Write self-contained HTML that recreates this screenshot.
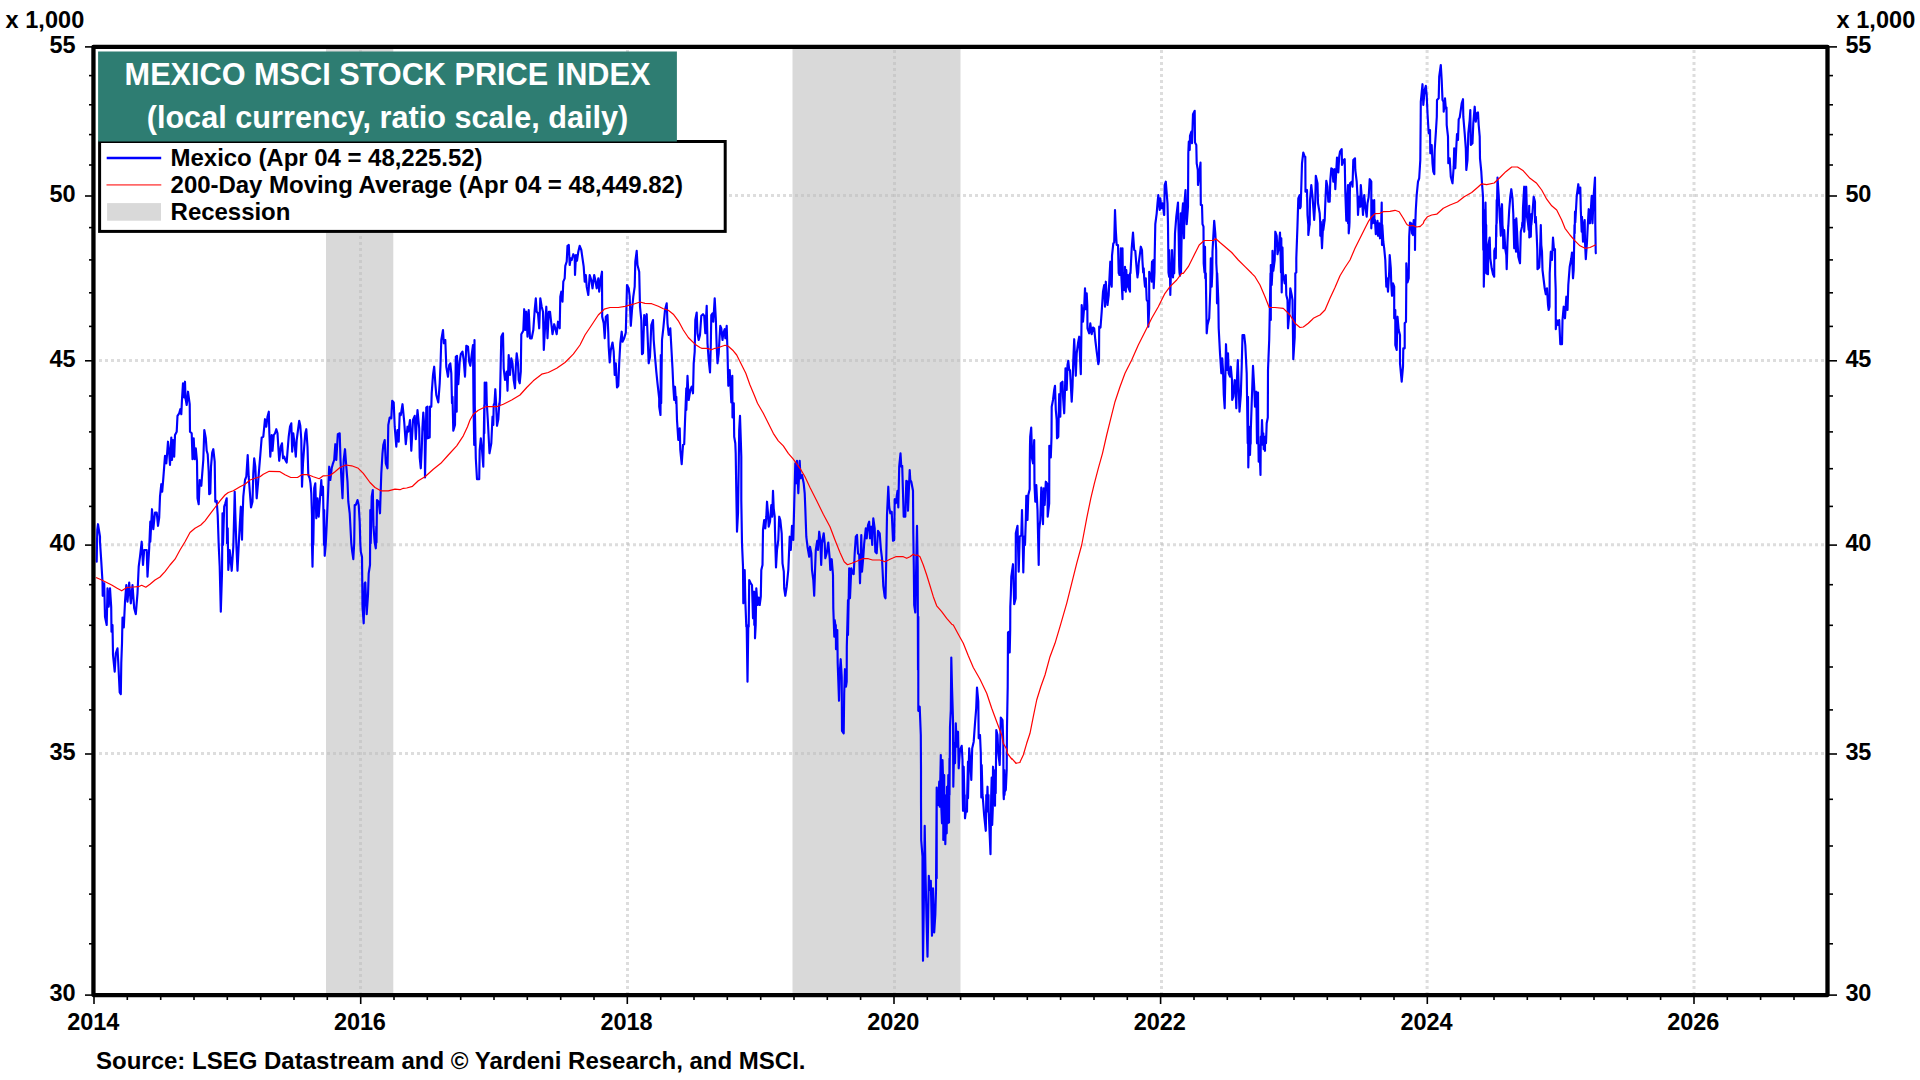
<!DOCTYPE html>
<html><head><meta charset="utf-8"><title>Mexico MSCI Stock Price Index</title>
<style>
html,body{margin:0;padding:0;background:#fff;}
body{width:1920px;height:1080px;position:relative;overflow:hidden;font-family:"Liberation Sans",sans-serif;font-weight:bold;color:#000;font-size:24px;}
.n{font-size:23.5px;letter-spacing:-0.1px;}
.t{position:absolute;white-space:nowrap;line-height:1;}
.yl{text-align:right;width:60px;left:15.4px;}
.yr{left:1845.4px;}
.xl{width:120px;text-align:center;}
.ti{position:absolute;left:98.1px;width:578.8px;text-align:center;color:#fff;font-size:30.67px;white-space:nowrap;line-height:1;}
.lt{position:absolute;left:170.6px;white-space:nowrap;line-height:1;letter-spacing:-0.035px;}
</style></head><body>
<svg width="1920" height="1080" viewBox="0 0 1920 1080" style="position:absolute;left:0;top:0">
<rect x="326" y="48" width="67.3" height="946" fill="#d9d9d9"/>
<rect x="792.5" y="48" width="168" height="946" fill="#d9d9d9"/>
<g stroke="#bbbbbb" stroke-opacity="0.5" stroke-width="3" stroke-dasharray="3,3" fill="none"><line x1="99" x2="1825" y1="195.6" y2="195.6"/><line x1="99" x2="1825" y1="360.4" y2="360.4"/><line x1="99" x2="1825" y1="544.7" y2="544.7"/><line x1="99" x2="1825" y1="753.6" y2="753.6"/><line x1="360.5" x2="360.5" y1="50" y2="993"/><line x1="627.5" x2="627.5" y1="50" y2="993"/><line x1="894.5" x2="894.5" y1="50" y2="993"/><line x1="1161.5" x2="1161.5" y1="50" y2="993"/><line x1="1427.1" x2="1427.1" y1="50" y2="993"/><line x1="1694.0" x2="1694.0" y1="50" y2="993"/></g>
<path d="M96.7,561.7 L97.0,543.3 L97.3,530.0 L98.0,524.2 L100.0,536.7 L100.0,541.7 L101.3,561.7 L102.5,581.7 L102.7,595.8 L104.2,583.3 L105.0,616.7 L106.7,625.0 L107.5,588.3 L108.7,606.7 L110.0,588.3 L111.2,606.7 L111.5,631.7 L112.5,625.0 L113.0,655.0 L114.7,671.7 L115.8,653.3 L117.5,648.3 L118.3,663.3 L119.7,692.5 L120.8,694.2 L121.3,662.5 L122.0,643.3 L122.5,617.5 L123.8,627.5 L125.0,601.7 L126.3,585.0 L127.5,601.7 L129.2,582.5 L130.8,603.3 L132.5,585.0 L134.2,608.3 L135.8,614.2 L137.5,593.3 L138.7,566.7 L140.0,556.7 L141.7,541.7 L143.0,565.0 L144.2,550.0 L146.7,550.0 L147.5,576.7 L149.2,548.3 L150.3,521.7 L150.3,541.7 L152.0,509.2 L153.3,529.2 L155.0,512.5 L156.7,512.5 L158.0,525.8 L159.2,517.5 L160.0,496.7 L161.3,484.2 L162.2,491.7 L163.3,478.3 L164.2,466.7 L165.0,455.8 L166.3,463.3 L167.0,455.0 L168.0,441.7 L169.2,453.3 L170.0,465.0 L171.3,437.5 L172.0,460.0 L173.0,440.0 L174.2,456.7 L175.0,435.0 L176.7,431.7 L177.5,415.8 L179.2,413.3 L180.3,409.2 L181.3,414.2 L182.0,399.2 L183.0,383.3 L184.2,397.5 L185.0,381.7 L185.5,398.3 L186.7,405.0 L188.0,391.7 L189.7,404.2 L190.0,431.7 L191.7,433.3 L192.5,459.2 L193.7,438.3 L194.7,459.2 L195.8,448.3 L197.0,461.7 L197.5,498.3 L198.7,504.2 L199.7,480.0 L201.3,485.8 L202.0,476.7 L203.3,460.0 L204.3,430.0 L205.8,438.3 L206.7,450.8 L207.7,454.2 L208.7,471.7 L209.2,494.2 L210.3,493.3 L211.0,466.7 L212.2,452.5 L213.3,449.2 L214.7,461.7 L215.3,501.7 L216.7,500.8 L217.7,515.0 L218.7,545.0 L219.7,566.7 L220.8,611.7 L222.0,573.3 L222.5,513.3 L223.0,545.0 L224.2,506.7 L225.3,503.3 L226.7,498.3 L227.0,543.3 L227.7,528.3 L228.3,570.0 L229.7,550.0 L231.7,570.8 L233.3,546.7 L234.3,510.0 L234.7,491.7 L235.2,510.0 L236.3,543.3 L237.5,570.8 L238.8,543.3 L240.8,506.7 L241.5,526.7 L242.0,539.7 L242.5,518.3 L243.3,496.7 L245.0,480.0 L246.3,476.7 L247.7,455.0 L248.7,476.7 L249.7,490.0 L251.0,507.5 L252.5,501.7 L253.3,473.3 L254.2,458.3 L255.3,466.7 L256.7,498.3 L258.0,483.3 L259.2,468.3 L260.3,455.0 L261.7,437.5 L263.3,436.7 L265.0,419.2 L266.3,426.7 L267.5,416.7 L268.8,411.7 L269.3,431.7 L270.3,456.7 L271.7,435.0 L272.5,450.8 L273.8,435.0 L275.0,433.3 L276.3,429.2 L277.5,433.3 L278.3,446.7 L279.2,460.8 L280.8,446.7 L282.0,443.3 L283.0,458.3 L284.2,456.7 L285.3,460.0 L286.7,462.5 L287.5,451.7 L288.7,436.7 L290.0,426.7 L291.3,423.3 L292.2,451.7 L293.3,433.3 L294.5,443.3 L295.8,456.7 L296.7,440.0 L298.0,430.0 L299.2,420.8 L300.3,425.8 L301.3,440.0 L302.0,486.7 L303.0,463.3 L304.2,446.7 L305.3,433.3 L306.3,429.2 L307.5,446.7 L308.3,475.0 L309.7,478.3 L310.5,483.3 L311.3,493.3 L312.0,515.8 L312.0,545.0 L312.5,566.7 L313.3,526.7 L313.3,545.0 L314.2,488.3 L315.3,483.3 L316.3,518.3 L317.5,498.3 L318.7,516.7 L320.0,498.3 L321.3,480.0 L322.0,495.0 L323.0,486.7 L324.0,545.0 L324.2,510.0 L324.7,555.8 L325.7,545.0 L326.7,525.0 L328.0,495.0 L329.2,466.7 L330.3,480.0 L331.7,468.3 L333.0,463.3 L334.2,460.0 L335.3,444.2 L336.3,460.0 L337.8,434.2 L339.7,433.3 L340.5,460.0 L341.3,476.7 L342.5,498.3 L343.7,460.0 L345.0,449.2 L346.3,466.7 L347.5,481.7 L348.3,501.7 L349.7,513.3 L351.3,543.3 L352.0,550.0 L353.3,559.2 L354.2,543.3 L354.7,505.0 L355.8,505.0 L357.5,500.0 L358.7,505.0 L359.7,521.7 L360.3,543.3 L360.8,551.7 L362.0,556.7 L362.5,606.7 L363.7,623.3 L364.7,583.3 L365.3,582.5 L366.7,614.2 L368.0,595.0 L368.7,573.3 L370.0,565.0 L370.3,510.0 L370.7,543.3 L371.7,496.7 L372.8,490.0 L373.5,526.7 L374.7,542.5 L375.8,548.3 L376.3,526.7 L376.5,542.5 L377.0,500.0 L378.7,501.7 L380.0,513.3 L381.3,473.3 L382.5,453.3 L383.3,445.0 L384.7,440.0 L385.8,463.3 L387.5,468.3 L388.3,425.0 L389.7,417.5 L391.3,418.3 L392.2,400.8 L393.7,402.5 L394.7,426.7 L396.3,446.7 L397.5,430.0 L398.7,441.7 L399.7,413.3 L400.8,415.0 L402.5,404.2 L402.5,404.2 L404.2,421.7 L405.8,444.2 L407.5,426.7 L408.3,431.7 L410.0,420.0 L411.3,450.8 L413.0,420.0 L414.7,415.8 L415.8,439.2 L416.7,421.7 L417.5,410.0 L419.2,428.3 L419.7,457.5 L420.8,468.3 L421.7,450.0 L422.5,426.7 L423.3,412.5 L424.7,431.7 L425.0,477.5 L425.8,440.0 L426.3,407.5 L427.5,406.7 L427.5,438.3 L429.7,437.5 L430.0,406.7 L430.0,407.5 L431.3,406.7 L431.7,393.3 L433.0,375.0 L434.2,366.7 L435.3,383.3 L436.3,395.0 L438.3,402.5 L439.7,383.3 L440.5,365.0 L441.3,340.0 L443.0,330.0 L443.8,343.3 L445.3,340.0 L446.3,366.7 L448.0,376.7 L449.2,365.0 L450.3,363.3 L451.3,373.3 L452.0,403.3 L452.5,396.7 L453.3,430.8 L455.0,425.0 L455.2,403.3 L455.8,356.7 L456.7,411.7 L457.0,355.8 L458.3,384.2 L459.7,361.7 L460.8,354.2 L462.5,351.7 L463.7,360.0 L465.0,376.7 L466.3,345.8 L468.0,346.7 L469.2,361.7 L470.3,365.8 L471.7,355.0 L473.0,345.0 L473.5,403.3 L474.2,445.0 L474.5,340.0 L474.8,405.0 L475.8,458.3 L477.0,479.2 L479.2,479.2 L479.7,450.0 L480.8,438.3 L482.0,450.0 L483.3,466.7 L484.3,405.0 L484.3,433.3 L484.7,382.5 L485.0,403.3 L486.3,382.5 L486.8,405.0 L486.8,403.3 L487.8,420.0 L489.5,453.3 L491.3,443.3 L492.5,416.7 L493.3,425.0 L493.7,405.0 L494.5,403.3 L495.3,389.2 L496.2,405.0 L496.3,410.0 L497.0,425.8 L498.3,419.2 L499.3,403.3 L499.5,405.0 L500.0,396.7 L501.3,336.7 L503.0,333.3 L503.7,368.3 L505.0,380.0 L506.7,371.7 L507.5,390.8 L508.7,355.0 L510.0,375.0 L511.3,358.3 L512.5,363.3 L513.7,380.0 L515.0,388.3 L515.8,366.7 L516.7,353.3 L518.0,363.3 L518.7,380.0 L519.7,383.3 L520.8,371.7 L521.3,334.2 L523.3,330.8 L524.2,309.2 L525.3,330.0 L526.3,311.7 L527.5,336.7 L528.7,310.0 L530.0,338.3 L531.7,338.3 L533.3,330.0 L534.7,310.0 L535.8,298.3 L536.7,311.7 L538.0,313.3 L539.2,328.3 L540.3,298.3 L541.7,306.7 L543.0,311.7 L543.8,350.0 L545.0,328.3 L546.3,306.7 L547.5,338.3 L548.8,311.7 L550.0,311.7 L551.3,323.3 L552.5,334.2 L554.2,324.2 L555.3,328.3 L556.7,334.2 L558.0,321.7 L559.7,328.3 L560.3,296.7 L561.3,291.7 L562.5,301.7 L563.3,281.7 L564.7,278.3 L565.3,265.8 L566.7,261.7 L567.5,245.8 L568.8,245.0 L569.7,265.0 L570.8,258.3 L571.7,260.0 L573.3,254.2 L574.7,256.7 L575.0,275.0 L576.0,255.0 L577.0,260.8 L578.3,251.7 L579.7,245.8 L581.3,250.0 L582.5,258.3 L583.7,266.7 L584.7,281.7 L585.8,275.0 L586.7,286.7 L588.3,295.0 L589.7,275.0 L591.3,280.0 L592.5,288.3 L594.2,275.0 L595.3,280.0 L596.7,288.3 L598.3,278.3 L599.2,291.7 L600.8,278.3 L602.0,271.7 L602.2,316.7 L603.7,323.3 L604.7,338.3 L605.8,316.7 L607.5,315.0 L608.3,333.3 L608.7,346.7 L609.7,362.5 L610.8,350.0 L612.5,342.5 L613.7,351.7 L614.7,375.0 L615.8,363.3 L617.0,387.5 L618.3,385.8 L619.2,363.3 L620.3,343.3 L621.7,331.7 L622.5,341.7 L624.2,338.3 L625.8,332.5 L627.0,285.0 L628.7,288.3 L629.7,296.7 L630.8,325.8 L632.0,310.0 L633.3,296.7 L634.7,286.7 L635.3,261.7 L636.7,250.8 L637.5,265.0 L639.2,271.7 L640.0,306.7 L641.3,320.0 L642.0,354.2 L643.0,353.3 L644.2,315.0 L645.3,325.0 L646.7,314.2 L647.5,333.3 L648.7,363.3 L650.0,356.7 L651.3,325.0 L653.0,320.0 L653.7,340.0 L655.0,356.7 L656.3,371.7 L657.5,383.3 L659.2,398.3 L659.2,406.7 L660.5,415.0 L660.8,355.0 L661.2,403.3 L662.0,340.0 L663.3,328.3 L665.0,310.0 L666.7,303.3 L667.5,323.3 L668.7,335.0 L670.3,328.3 L671.3,346.7 L672.5,368.3 L673.3,386.7 L674.2,400.0 L675.0,386.7 L676.0,403.3 L676.3,396.7 L677.0,420.0 L678.3,440.0 L679.7,428.3 L680.3,450.0 L681.7,464.2 L683.0,445.0 L684.2,444.2 L685.0,421.7 L686.3,388.3 L686.3,410.0 L687.5,375.8 L688.7,400.0 L690.3,390.0 L691.7,386.7 L693.0,393.3 L693.7,363.3 L694.7,351.7 L695.3,320.0 L696.7,312.5 L697.5,333.3 L698.7,340.0 L700.0,335.0 L701.3,315.8 L703.0,314.2 L704.2,315.8 L705.3,333.3 L706.7,305.8 L707.5,343.3 L708.7,360.0 L710.0,372.5 L710.8,345.0 L711.3,315.0 L712.5,313.3 L713.3,321.7 L714.7,298.3 L715.8,318.3 L716.7,346.7 L717.5,363.3 L718.7,353.3 L719.7,335.0 L720.3,325.8 L721.3,328.3 L722.5,340.0 L723.3,333.3 L724.7,329.2 L725.3,338.3 L726.7,325.8 L727.5,351.7 L728.3,385.8 L729.7,370.0 L730.3,381.7 L731.3,402.5 L732.3,375.8 L732.5,417.5 L733.8,403.3 L734.2,436.7 L735.3,443.3 L735.7,453.3 L736.3,491.7 L737.0,531.7 L738.0,513.3 L738.7,466.7 L739.2,430.0 L740.0,415.8 L740.8,440.0 L741.3,456.7 L741.3,500.0 L742.0,543.3 L743.0,566.7 L743.3,603.3 L744.7,570.0 L745.3,600.0 L746.3,626.7 L746.7,626.7 L747.5,681.7 L748.3,625.0 L748.7,626.7 L749.2,580.0 L750.8,583.3 L752.0,585.0 L753.0,618.3 L754.2,591.7 L754.3,625.0 L755.0,625.0 L755.0,638.3 L755.7,625.0 L755.7,625.0 L756.3,588.3 L757.5,605.0 L758.7,597.5 L759.7,605.0 L760.8,596.7 L761.3,570.0 L762.5,565.0 L763.0,530.0 L764.2,520.0 L765.3,528.3 L766.3,516.7 L767.0,501.7 L768.0,513.3 L768.7,526.7 L770.0,521.7 L771.3,505.0 L772.2,516.7 L773.0,490.8 L773.7,508.3 L774.7,516.7 L775.0,531.7 L776.0,567.5 L777.0,550.0 L778.3,540.0 L779.2,516.7 L780.3,520.0 L781.7,533.3 L782.5,563.3 L783.8,571.7 L784.2,588.3 L785.3,595.8 L786.7,586.7 L788.3,570.0 L789.7,536.7 L790.8,550.0 L792.0,525.8 L793.3,540.0 L794.2,505.0 L795.3,463.3 L796.3,483.3 L797.0,460.8 L798.3,493.3 L799.7,460.8 L800.5,478.3 L802.0,475.0 L803.7,483.3 L804.7,493.3 L805.3,508.3 L806.3,536.7 L807.5,546.7 L809.2,556.7 L810.0,546.7 L811.3,553.3 L812.0,570.0 L813.3,580.0 L814.2,595.8 L815.0,571.7 L815.8,550.0 L817.2,540.8 L818.0,550.0 L819.2,531.7 L820.3,540.0 L821.2,565.0 L822.0,543.3 L823.7,533.3 L824.7,543.3 L825.3,558.3 L826.7,553.3 L828.3,542.5 L829.7,558.3 L830.3,570.0 L831.7,559.2 L833.0,575.0 L833.3,608.3 L834.3,636.7 L834.7,620.0 L835.3,625.0 L835.8,625.0 L836.0,649.2 L837.3,630.0 L837.7,663.3 L839.0,700.8 L839.7,673.3 L840.7,659.2 L841.7,676.7 L842.0,730.8 L843.7,733.3 L844.2,693.3 L845.0,669.2 L846.0,686.7 L846.7,681.7 L846.8,646.7 L848.0,600.0 L848.0,635.0 L849.2,568.3 L850.0,598.3 L851.3,568.3 L852.5,573.3 L853.7,574.2 L854.7,553.3 L855.8,536.7 L857.0,535.0 L858.0,553.3 L859.2,555.0 L860.0,583.3 L861.3,535.0 L862.0,571.7 L863.3,556.7 L864.2,543.3 L865.8,528.3 L866.7,538.3 L868.0,525.0 L869.2,521.7 L870.0,538.3 L871.3,526.7 L872.2,545.0 L873.3,518.3 L874.7,528.3 L875.3,551.7 L876.7,553.3 L878.0,530.8 L879.7,533.3 L880.8,548.3 L882.0,558.3 L883.3,585.8 L884.7,596.7 L885.5,598.3 L886.3,556.7 L887.0,515.0 L888.3,486.7 L889.2,506.7 L890.3,513.3 L891.7,511.7 L893.0,540.8 L894.2,540.0 L894.7,499.2 L895.8,503.3 L897.5,490.8 L898.3,507.5 L899.2,466.7 L900.5,453.3 L901.3,466.7 L902.2,465.8 L903.7,516.7 L905.3,516.7 L906.3,480.8 L907.5,481.7 L908.0,510.8 L909.7,470.0 L910.3,480.0 L911.3,481.7 L913.0,490.8 L913.3,533.3 L913.8,566.7 L914.2,605.0 L915.3,612.5 L916.2,566.7 L917.0,525.8 L917.7,566.7 L918.0,670.0 L918.3,616.7 L918.3,710.8 L919.7,706.7 L920.8,735.0 L921.0,770.0 L921.0,800.0 L921.2,840.0 L922.5,856.7 L922.5,898.3 L923.0,960.8 L923.8,906.7 L924.7,825.8 L925.5,873.3 L926.5,918.3 L927.5,956.7 L928.2,915.0 L928.8,875.8 L929.8,890.0 L930.8,880.8 L932.0,935.8 L933.0,888.3 L934.2,932.5 L935.3,915.0 L936.0,890.0 L936.7,787.5 L936.7,878.3 L936.7,840.0 L936.7,806.7 L938.0,795.0 L938.3,805.0 L939.2,781.7 L939.7,806.7 L940.0,793.3 L940.8,755.0 L941.3,806.7 L942.0,823.3 L942.5,760.0 L943.3,786.7 L943.3,840.0 L944.2,775.0 L944.3,836.7 L944.8,795.0 L945.3,844.2 L945.8,821.7 L946.7,795.0 L946.7,833.3 L947.0,786.7 L947.8,823.3 L948.3,775.0 L949.0,822.5 L949.5,758.3 L949.5,795.0 L950.0,726.7 L950.8,710.0 L951.3,657.5 L952.0,686.7 L953.0,720.0 L953.3,786.7 L954.2,743.3 L955.0,763.3 L955.8,723.3 L956.7,746.7 L958.0,731.7 L958.7,768.3 L960.0,750.0 L961.7,745.8 L962.5,760.0 L962.7,795.0 L963.0,810.8 L963.7,766.7 L964.7,811.7 L964.7,795.0 L965.0,818.3 L965.8,811.7 L967.0,811.7 L967.2,795.0 L968.0,761.7 L968.0,798.3 L969.2,748.3 L970.3,761.7 L971.3,780.0 L972.2,748.3 L973.7,741.7 L975.0,723.3 L976.2,708.3 L977.0,687.5 L978.3,701.7 L978.7,738.3 L980.0,735.0 L980.8,753.3 L981.3,797.5 L981.7,765.0 L982.5,795.0 L982.8,797.5 L984.2,815.8 L985.8,830.8 L986.3,795.0 L986.7,811.7 L987.5,786.7 L987.7,795.0 L988.5,795.0 L988.7,811.7 L990.5,854.2 L991.2,795.0 L991.7,777.5 L992.2,825.0 L992.8,808.3 L993.0,766.7 L994.2,786.7 L995.0,805.8 L995.3,770.0 L995.7,793.3 L996.3,730.0 L997.5,735.0 L998.3,753.3 L999.7,765.0 L1000.8,717.5 L1002.5,720.0 L1003.3,743.3 L1003.5,793.3 L1003.8,799.2 L1004.3,770.0 L1004.5,795.0 L1004.7,791.7 L1005.8,790.0 L1006.7,770.0 L1007.0,726.7 L1007.7,686.7 L1008.0,632.5 L1009.2,631.7 L1009.7,652.5 L1010.2,630.0 L1010.3,606.7 L1010.8,595.0 L1011.3,576.7 L1013.0,564.2 L1014.2,604.2 L1015.7,598.3 L1015.8,533.3 L1017.5,525.8 L1018.7,571.7 L1019.7,536.7 L1021.3,535.0 L1022.0,510.0 L1022.7,540.0 L1023.3,572.5 L1024.2,536.7 L1025.0,545.0 L1025.8,520.0 L1026.3,495.8 L1027.5,520.0 L1028.3,495.0 L1029.7,489.2 L1029.8,460.0 L1030.0,445.0 L1030.2,436.7 L1031.2,427.5 L1031.7,443.3 L1032.0,458.3 L1033.0,463.3 L1033.8,448.3 L1034.2,440.0 L1034.3,456.7 L1034.5,485.0 L1035.3,501.7 L1036.3,485.0 L1037.5,510.0 L1038.7,565.0 L1039.2,530.0 L1040.3,520.0 L1041.3,487.5 L1043.0,524.2 L1043.7,488.3 L1044.7,505.0 L1045.8,481.7 L1047.5,484.2 L1047.7,516.7 L1049.2,503.3 L1049.3,473.3 L1049.3,445.8 L1049.5,445.8 L1050.8,457.5 L1051.3,443.3 L1051.5,436.7 L1051.7,406.7 L1053.0,400.0 L1054.2,390.0 L1055.0,385.8 L1055.8,410.0 L1056.7,420.0 L1057.0,438.3 L1058.3,436.7 L1058.7,416.7 L1059.2,394.2 L1060.3,416.7 L1060.8,383.3 L1062.5,381.7 L1063.0,396.7 L1064.2,413.3 L1065.0,390.0 L1065.5,368.3 L1066.7,390.0 L1067.5,365.0 L1068.3,360.8 L1069.2,370.0 L1070.0,370.0 L1070.8,385.0 L1071.7,401.7 L1072.5,386.7 L1073.3,360.0 L1074.2,339.2 L1075.8,375.8 L1076.7,353.3 L1078.0,343.3 L1079.2,336.7 L1080.0,356.7 L1080.8,374.2 L1081.3,340.0 L1081.7,305.0 L1083.0,321.7 L1084.2,306.7 L1085.0,288.3 L1085.8,309.2 L1086.7,293.3 L1087.3,305.8 L1087.5,328.3 L1089.2,333.3 L1090.3,323.3 L1091.7,334.2 L1093.0,327.5 L1094.2,328.3 L1095.3,340.0 L1096.7,351.7 L1098.3,364.2 L1099.0,360.8 L1099.2,326.7 L1100.5,327.5 L1101.7,311.7 L1103.0,291.7 L1104.2,285.0 L1105.0,306.7 L1105.8,281.7 L1107.5,305.0 L1108.7,295.0 L1109.2,283.3 L1110.3,261.7 L1110.8,281.7 L1111.7,286.7 L1112.0,273.3 L1112.0,255.8 L1113.3,243.3 L1114.2,242.5 L1115.0,210.0 L1115.8,230.0 L1116.7,245.0 L1118.0,245.0 L1118.7,273.3 L1118.7,261.7 L1119.3,275.0 L1119.7,275.0 L1120.3,272.5 L1120.8,248.3 L1121.3,275.0 L1122.5,299.2 L1122.5,248.3 L1122.8,273.3 L1124.0,273.3 L1124.2,290.0 L1125.0,275.0 L1125.0,266.7 L1125.8,291.7 L1126.3,270.0 L1127.0,286.7 L1128.0,275.0 L1128.7,288.3 L1130.0,291.7 L1130.0,273.3 L1130.5,273.3 L1130.8,266.7 L1131.7,248.3 L1133.0,232.5 L1134.2,250.0 L1135.3,250.8 L1136.3,264.2 L1137.0,272.5 L1137.5,277.5 L1137.5,276.7 L1138.2,272.5 L1138.7,263.3 L1140.0,253.3 L1140.8,246.7 L1142.0,250.0 L1142.5,261.7 L1143.2,272.5 L1143.7,268.3 L1144.2,278.3 L1145.0,286.7 L1145.8,278.3 L1146.7,300.0 L1147.8,301.7 L1148.3,326.7 L1149.2,308.3 L1149.2,271.7 L1150.0,278.3 L1150.8,273.3 L1151.7,281.7 L1151.7,270.0 L1152.0,261.7 L1152.5,273.3 L1153.3,260.0 L1153.7,288.3 L1154.5,272.5 L1154.7,255.8 L1155.3,224.2 L1156.7,213.3 L1157.5,203.3 L1158.3,195.0 L1159.7,210.0 L1160.3,198.3 L1161.3,208.3 L1162.5,203.3 L1164.2,215.0 L1164.7,185.0 L1165.8,181.7 L1166.7,193.3 L1167.5,203.3 L1168.0,225.0 L1168.5,272.5 L1169.2,276.7 L1169.2,250.0 L1170.0,271.7 L1170.3,295.0 L1170.8,276.7 L1171.7,273.3 L1172.0,250.0 L1173.0,277.5 L1173.3,266.7 L1173.8,272.5 L1174.2,273.3 L1175.0,233.3 L1176.3,216.7 L1178.0,202.5 L1178.7,236.7 L1179.2,266.7 L1179.5,272.5 L1180.0,275.8 L1180.0,260.0 L1180.8,213.3 L1181.0,272.5 L1182.0,216.7 L1183.0,203.3 L1184.0,238.3 L1184.7,200.0 L1185.5,190.0 L1186.7,224.2 L1188.0,206.7 L1188.3,153.3 L1188.8,141.7 L1189.7,150.0 L1190.0,135.8 L1191.3,131.7 L1192.0,143.3 L1193.0,114.2 L1194.7,110.8 L1195.0,142.5 L1196.3,145.0 L1196.7,163.3 L1197.8,170.0 L1198.0,185.0 L1199.2,175.0 L1200.5,162.5 L1200.8,205.0 L1202.0,205.0 L1202.5,224.2 L1203.5,226.7 L1203.7,263.3 L1204.5,272.5 L1205.0,246.7 L1205.3,278.3 L1205.8,273.3 L1206.7,333.3 L1207.5,325.0 L1209.2,318.3 L1210.3,290.0 L1210.5,273.3 L1210.8,258.3 L1211.7,286.7 L1212.3,272.5 L1212.5,251.7 L1213.3,236.7 L1214.2,220.8 L1215.3,233.3 L1216.2,250.0 L1216.3,263.3 L1216.8,272.5 L1217.0,303.3 L1217.2,273.3 L1218.3,300.0 L1218.7,328.3 L1220.0,353.3 L1221.3,373.3 L1222.2,358.3 L1223.0,370.0 L1223.8,395.0 L1224.7,408.3 L1225.3,378.3 L1226.0,344.2 L1227.0,370.0 L1228.0,353.3 L1228.7,373.3 L1230.0,376.7 L1230.8,366.7 L1232.0,380.0 L1232.2,400.0 L1233.3,396.7 L1234.7,380.0 L1235.5,386.7 L1236.3,408.3 L1237.0,378.3 L1237.8,360.0 L1238.7,386.7 L1239.5,411.7 L1240.8,395.0 L1241.7,366.7 L1242.5,335.0 L1244.2,335.0 L1245.3,345.0 L1246.7,373.3 L1247.7,443.3 L1248.0,396.7 L1248.3,467.5 L1249.2,426.7 L1249.8,445.0 L1250.0,455.0 L1250.3,445.0 L1250.7,443.3 L1250.8,430.0 L1251.7,403.3 L1253.0,365.8 L1254.2,386.7 L1255.0,406.7 L1256.3,391.7 L1257.0,443.3 L1258.0,392.5 L1258.3,436.7 L1258.7,461.7 L1259.3,445.0 L1259.5,446.7 L1260.5,475.0 L1260.8,436.7 L1261.3,445.0 L1262.0,420.0 L1263.0,445.0 L1263.3,433.3 L1263.7,449.2 L1264.2,445.0 L1265.0,450.8 L1265.0,436.7 L1266.0,443.3 L1266.7,423.3 L1267.8,417.5 L1268.0,370.0 L1269.2,340.0 L1269.7,315.0 L1270.5,273.3 L1270.8,320.0 L1270.8,265.0 L1271.7,285.0 L1272.3,272.5 L1272.5,250.8 L1273.3,270.8 L1274.7,260.0 L1275.3,231.7 L1276.7,235.8 L1277.5,254.2 L1278.7,248.3 L1280.0,232.5 L1281.0,272.5 L1281.3,238.3 L1281.7,292.5 L1282.5,247.5 L1283.0,278.3 L1283.0,273.3 L1283.3,275.0 L1284.7,283.3 L1285.8,275.0 L1286.3,295.0 L1287.5,300.0 L1288.0,328.3 L1289.2,315.0 L1290.3,288.3 L1291.7,295.0 L1292.5,300.0 L1293.3,359.2 L1294.7,337.5 L1295.3,286.7 L1295.3,273.3 L1296.3,272.5 L1296.3,258.3 L1297.5,225.0 L1298.3,198.3 L1299.7,195.0 L1300.0,208.3 L1300.7,206.7 L1301.3,186.7 L1302.0,163.3 L1303.3,152.5 L1304.7,156.7 L1305.3,156.7 L1305.5,191.7 L1307.0,190.0 L1307.5,215.0 L1308.3,225.0 L1308.3,235.0 L1309.7,223.3 L1309.7,225.0 L1310.0,200.0 L1311.3,185.0 L1312.5,196.7 L1314.2,220.0 L1315.3,200.0 L1315.8,175.8 L1317.5,183.3 L1318.0,203.3 L1319.7,213.3 L1320.2,223.3 L1320.3,235.8 L1320.8,221.7 L1322.0,248.3 L1323.3,220.0 L1323.3,230.0 L1324.3,222.5 L1324.7,220.0 L1325.3,203.3 L1326.3,180.8 L1327.5,186.7 L1328.3,201.7 L1329.7,201.7 L1330.3,180.0 L1331.3,168.3 L1332.5,169.2 L1333.3,181.7 L1334.7,169.2 L1335.3,189.2 L1336.3,170.0 L1337.0,157.5 L1338.3,172.5 L1339.2,156.7 L1340.0,151.7 L1341.7,149.2 L1342.0,165.0 L1343.7,160.0 L1344.7,159.2 L1345.3,191.7 L1346.3,220.8 L1347.2,200.0 L1348.0,185.0 L1348.0,223.3 L1348.7,208.3 L1348.7,233.3 L1349.3,226.7 L1349.5,222.5 L1350.0,183.3 L1351.7,181.7 L1352.5,186.7 L1353.3,160.0 L1355.0,158.3 L1355.3,170.0 L1356.7,181.7 L1357.5,196.7 L1358.0,215.0 L1359.2,196.7 L1360.3,206.7 L1360.8,185.0 L1362.0,200.0 L1363.0,215.0 L1364.2,195.0 L1365.3,206.7 L1366.7,216.7 L1367.5,203.3 L1368.7,196.7 L1369.7,179.2 L1371.3,181.7 L1371.3,228.3 L1372.0,200.0 L1372.5,216.7 L1372.5,223.3 L1373.3,208.3 L1374.2,200.0 L1374.5,223.3 L1375.0,220.0 L1375.8,234.2 L1376.3,226.7 L1377.0,225.0 L1377.5,220.8 L1378.0,235.8 L1379.2,223.3 L1379.2,228.3 L1380.0,238.3 L1380.8,226.7 L1381.2,225.0 L1381.7,202.5 L1382.0,245.0 L1382.3,225.0 L1383.3,241.7 L1384.2,248.3 L1385.3,260.0 L1386.3,286.7 L1387.0,278.3 L1388.0,291.7 L1389.2,271.7 L1389.7,255.0 L1390.8,268.3 L1391.3,285.0 L1392.0,295.8 L1393.0,283.3 L1394.2,286.7 L1394.2,318.3 L1395.3,310.0 L1395.3,345.0 L1396.7,350.0 L1397.5,316.7 L1398.7,330.0 L1400.0,335.0 L1400.0,363.3 L1401.7,381.7 L1403.0,366.7 L1403.3,348.3 L1404.7,348.3 L1404.7,323.3 L1406.0,321.7 L1406.3,283.3 L1406.3,263.3 L1407.5,282.5 L1408.7,278.3 L1409.2,236.7 L1410.0,222.5 L1410.3,228.3 L1411.3,223.3 L1412.0,233.3 L1413.0,235.0 L1413.7,220.0 L1414.2,230.0 L1415.0,226.7 L1415.0,250.0 L1415.3,223.3 L1415.8,210.0 L1416.7,195.0 L1418.0,181.7 L1419.2,178.3 L1420.3,160.0 L1420.7,116.7 L1420.8,101.7 L1422.5,84.2 L1423.3,105.0 L1424.7,90.0 L1425.8,85.8 L1426.7,95.0 L1427.5,113.3 L1428.7,133.3 L1430.0,130.0 L1430.3,153.3 L1431.7,145.0 L1432.5,163.3 L1433.3,171.7 L1434.3,174.2 L1434.5,158.3 L1434.7,150.0 L1435.8,133.3 L1436.8,116.7 L1437.0,100.0 L1438.7,98.3 L1439.2,76.7 L1440.8,65.0 L1441.7,80.0 L1442.5,100.0 L1443.5,101.7 L1443.7,111.7 L1445.0,98.3 L1445.8,108.3 L1446.5,107.5 L1446.7,125.0 L1448.0,136.7 L1448.3,163.3 L1449.7,158.3 L1450.8,176.7 L1452.5,183.3 L1453.7,166.7 L1454.2,148.3 L1455.3,168.3 L1456.3,146.7 L1457.0,134.2 L1458.0,140.0 L1458.7,119.2 L1459.7,117.5 L1460.3,113.3 L1461.7,103.3 L1463.0,99.2 L1463.3,116.7 L1464.7,133.3 L1465.8,148.3 L1466.3,170.0 L1467.5,160.0 L1468.3,133.3 L1469.7,120.0 L1470.3,110.0 L1470.8,145.0 L1472.5,143.3 L1473.3,123.3 L1474.7,106.7 L1475.8,121.7 L1476.7,113.3 L1478.0,112.5 L1478.7,125.0 L1479.7,136.7 L1480.0,158.3 L1481.3,171.7 L1482.0,183.3 L1483.0,196.7 L1483.0,223.3 L1483.3,250.0 L1483.7,225.0 L1483.8,286.7 L1484.5,253.3 L1484.7,210.0 L1485.0,223.3 L1485.5,202.5 L1486.0,236.7 L1486.2,225.0 L1486.3,273.3 L1488.0,274.2 L1488.3,245.0 L1489.7,237.5 L1490.3,258.3 L1491.7,268.3 L1493.0,274.2 L1494.2,276.7 L1494.3,250.8 L1495.0,248.3 L1495.8,258.3 L1496.2,225.0 L1496.3,236.7 L1496.7,200.0 L1496.7,223.3 L1497.5,177.5 L1498.7,195.0 L1499.7,216.7 L1500.2,223.3 L1500.8,235.8 L1501.3,210.0 L1502.0,204.2 L1502.5,225.0 L1503.0,230.0 L1503.3,248.3 L1504.2,230.0 L1505.3,249.2 L1506.3,255.0 L1506.7,269.2 L1507.5,241.7 L1508.3,225.0 L1508.3,226.7 L1509.2,210.0 L1510.3,196.7 L1511.3,189.2 L1512.5,198.3 L1513.3,214.2 L1513.5,223.3 L1514.2,248.3 L1514.7,220.0 L1515.0,226.7 L1516.0,251.7 L1516.3,218.3 L1517.0,230.0 L1518.3,256.7 L1520.0,263.3 L1520.8,231.7 L1522.0,226.7 L1522.3,222.5 L1522.7,225.0 L1523.0,207.5 L1524.2,186.7 L1524.2,231.7 L1526.2,186.7 L1527.0,216.7 L1528.0,223.3 L1528.7,230.0 L1529.2,205.8 L1529.3,237.5 L1530.0,216.7 L1530.8,236.7 L1531.3,214.2 L1531.3,225.0 L1532.5,212.5 L1533.7,196.7 L1535.0,201.7 L1535.0,222.5 L1535.8,216.7 L1536.7,235.0 L1537.3,250.0 L1537.5,269.2 L1539.2,267.5 L1540.0,253.3 L1540.5,236.7 L1540.8,225.0 L1540.8,225.8 L1541.3,245.0 L1542.0,251.7 L1542.5,270.0 L1543.7,280.0 L1544.7,288.3 L1545.8,294.2 L1547.0,288.3 L1548.0,305.0 L1548.7,310.0 L1549.5,306.7 L1549.7,273.3 L1550.8,251.7 L1552.0,260.0 L1553.0,237.5 L1554.0,250.0 L1555.0,249.2 L1555.2,275.0 L1555.7,290.0 L1555.8,329.2 L1556.7,320.0 L1558.0,325.0 L1559.2,320.0 L1560.3,344.2 L1562.0,344.2 L1562.5,320.0 L1563.7,306.7 L1565.0,318.3 L1566.3,296.7 L1567.5,310.0 L1568.3,285.0 L1569.7,266.7 L1571.3,258.3 L1572.0,252.5 L1573.0,278.3 L1573.7,270.0 L1574.5,225.0 L1574.7,233.3 L1575.0,211.7 L1575.3,222.5 L1576.7,196.7 L1578.3,184.2 L1579.2,193.3 L1580.3,187.5 L1580.8,210.0 L1581.7,231.7 L1582.0,216.7 L1583.0,241.7 L1584.0,225.0 L1584.7,220.0 L1585.0,241.7 L1585.8,259.2 L1587.0,241.7 L1587.8,225.0 L1587.8,225.0 L1588.7,209.2 L1590.0,223.3 L1591.7,195.8 L1592.5,223.3 L1593.7,195.0 L1595.0,177.5 L1595.3,225.0 L1595.5,236.7 L1595.7,251.7 L1595.8,253.3" fill="none" stroke="#0000ff" stroke-width="2.15" stroke-linejoin="round" stroke-linecap="round"/>
<path d="M96.0,577.5 L101.7,580.0 L106.7,582.5 L111.7,585.0 L116.7,588.0 L121.7,590.8 L126.7,587.5 L133.3,587.0 L138.3,586.7 L141.7,585.3 L145.8,587.2 L150.0,584.2 L155.0,580.0 L160.0,577.0 L165.0,571.7 L170.0,565.0 L175.0,559.2 L180.0,550.0 L185.0,541.7 L190.0,532.5 L195.0,528.3 L200.8,525.0 L205.0,520.8 L210.0,514.2 L215.0,507.5 L220.0,500.8 L225.0,495.0 L228.3,492.5 L233.3,490.8 L240.0,486.7 L245.0,484.2 L250.0,480.0 L255.0,478.3 L260.0,476.7 L263.3,474.2 L269.2,471.3 L280.0,471.7 L285.0,474.7 L290.8,477.5 L297.5,477.5 L301.7,474.7 L308.3,474.7 L313.3,476.7 L319.2,478.7 L323.3,475.8 L330.0,475.5 L335.0,471.7 L340.0,467.5 L345.8,465.0 L351.7,465.8 L358.3,468.3 L363.3,473.3 L370.0,482.5 L375.0,487.5 L380.8,490.8 L388.3,490.8 L395.0,489.2 L400.0,489.7 L403.3,488.3 L406.7,488.0 L412.5,486.3 L418.3,480.8 L425.0,476.7 L433.3,469.2 L440.8,463.3 L448.3,455.0 L456.7,445.8 L463.3,435.8 L467.5,426.7 L470.0,420.0 L473.3,414.2 L478.3,410.3 L485.0,407.0 L486.7,406.7 L496.7,406.7 L503.3,404.2 L511.7,400.0 L520.0,395.0 L526.7,387.5 L533.3,380.8 L541.7,374.2 L548.3,372.5 L556.7,368.3 L565.0,362.5 L573.3,354.2 L580.0,345.0 L585.0,335.0 L591.7,325.0 L598.3,315.0 L604.2,309.2 L610.0,307.5 L618.3,307.5 L625.0,306.3 L633.3,304.2 L640.0,302.0 L645.0,303.3 L651.7,303.7 L658.3,306.3 L663.3,308.7 L668.3,310.3 L673.3,314.2 L678.3,320.8 L683.3,330.0 L688.3,337.5 L695.0,344.2 L700.0,347.5 L701.7,348.3 L706.7,348.3 L710.0,349.2 L710.8,350.0 L715.0,348.3 L716.7,348.0 L720.0,347.0 L725.0,345.3 L728.3,346.3 L733.3,350.8 L736.7,355.0 L740.8,363.3 L745.8,373.3 L750.0,385.0 L754.2,395.0 L757.5,403.3 L763.3,413.3 L768.3,423.3 L773.3,433.3 L778.3,440.8 L783.3,445.8 L788.3,453.3 L793.3,459.2 L800.0,468.3 L805.0,476.7 L810.0,487.5 L816.7,500.8 L823.3,514.2 L830.0,526.7 L835.0,540.0 L840.0,552.5 L844.2,561.7 L847.5,564.7 L851.7,563.3 L856.7,561.3 L862.5,558.7 L868.3,558.7 L872.5,560.0 L880.0,560.0 L885.0,561.7 L890.0,559.2 L895.8,556.7 L903.3,556.7 L906.7,558.3 L910.0,556.7 L913.3,554.2 L915.0,555.3 L917.5,555.0 L920.0,556.7 L923.3,565.0 L926.7,575.0 L930.0,585.8 L933.3,596.7 L936.7,605.8 L941.7,611.7 L946.7,618.3 L951.7,624.2 L953.3,625.0 L958.3,634.2 L963.3,643.3 L968.3,655.8 L973.3,667.5 L980.0,679.2 L986.7,693.3 L991.7,708.3 L996.7,721.7 L1001.7,735.0 L1003.3,743.3 L1006.7,749.2 L1007.5,753.3 L1011.7,759.2 L1011.7,758.3 L1015.8,763.0 L1015.8,763.3 L1020.0,762.5 L1020.0,762.0 L1023.3,755.0 L1026.7,743.3 L1030.0,733.3 L1033.3,716.7 L1036.7,700.0 L1040.8,686.7 L1045.0,675.0 L1050.0,656.7 L1055.0,643.3 L1060.0,626.7 L1066.7,603.3 L1071.7,583.3 L1076.7,563.3 L1081.7,545.0 L1086.7,518.3 L1090.8,498.3 L1094.2,484.2 L1098.3,468.3 L1102.5,453.3 L1106.7,435.0 L1110.8,418.3 L1115.0,401.7 L1120.0,386.7 L1125.0,373.3 L1131.7,360.0 L1138.3,345.0 L1145.0,331.7 L1151.7,318.3 L1158.3,306.7 L1165.0,293.3 L1170.0,286.7 L1176.7,280.0 L1181.7,273.3 L1183.3,273.3 L1188.3,266.7 L1193.3,256.7 L1199.2,245.0 L1204.2,240.5 L1213.3,240.5 L1215.8,238.7 L1220.0,242.5 L1225.0,246.7 L1231.7,252.5 L1238.3,260.0 L1245.0,266.7 L1251.7,273.3 L1255.0,276.7 L1260.0,285.0 L1265.0,296.7 L1269.2,307.5 L1275.0,307.5 L1283.3,308.3 L1290.0,315.0 L1295.0,323.3 L1300.0,327.5 L1300.0,327.5 L1303.3,327.0 L1305.0,325.8 L1308.3,323.3 L1311.7,320.0 L1313.3,318.3 L1318.3,315.8 L1320.0,315.0 L1325.0,310.0 L1330.0,298.3 L1335.0,287.5 L1340.0,275.8 L1345.0,267.5 L1350.0,260.0 L1355.0,248.3 L1360.0,238.3 L1365.0,228.3 L1368.3,221.7 L1371.7,216.7 L1375.0,213.7 L1380.0,213.3 L1383.3,211.7 L1390.0,211.3 L1395.0,210.3 L1399.2,211.7 L1403.3,218.3 L1406.7,224.2 L1407.5,225.0 L1410.0,225.8 L1413.3,225.5 L1413.3,225.8 L1416.7,227.0 L1416.7,227.0 L1420.0,226.3 L1420.0,226.7 L1423.3,223.3 L1424.2,220.8 L1427.5,216.7 L1431.7,215.0 L1436.7,214.2 L1443.3,208.3 L1450.0,205.0 L1457.5,202.0 L1464.2,196.7 L1471.7,192.5 L1477.5,187.5 L1481.7,183.8 L1486.7,184.7 L1494.2,183.0 L1500.0,177.5 L1505.8,171.7 L1511.7,167.0 L1517.5,167.0 L1523.3,170.8 L1530.0,178.3 L1536.7,183.3 L1541.7,190.0 L1546.7,199.2 L1551.7,205.8 L1556.7,210.0 L1561.7,220.0 L1565.0,228.3 L1570.0,235.0 L1575.0,240.8 L1580.0,245.8 L1585.0,248.3 L1590.0,247.5 L1595.8,244.7" fill="none" stroke="#ff0000" stroke-width="1.2" stroke-linejoin="round"/>
<rect x="93.45" y="46.9" width="1734.05" height="948.2" fill="none" stroke="#000" stroke-width="4.3" stroke-linejoin="round"/>
<g stroke="#000" stroke-width="1.6"><line x1="85" x2="93" y1="995.1" y2="995.1"/><line x1="1829" x2="1837" y1="995.1" y2="995.1"/><line x1="89" x2="93" y1="943.8" y2="943.8"/><line x1="1829" x2="1833" y1="943.8" y2="943.8"/><line x1="89" x2="93" y1="894.1" y2="894.1"/><line x1="1829" x2="1833" y1="894.1" y2="894.1"/><line x1="89" x2="93" y1="846.0" y2="846.0"/><line x1="1829" x2="1833" y1="846.0" y2="846.0"/><line x1="89" x2="93" y1="799.3" y2="799.3"/><line x1="1829" x2="1833" y1="799.3" y2="799.3"/><line x1="85" x2="93" y1="754.0" y2="754.0"/><line x1="1829" x2="1837" y1="754.0" y2="754.0"/><line x1="89" x2="93" y1="709.9" y2="709.9"/><line x1="1829" x2="1833" y1="709.9" y2="709.9"/><line x1="89" x2="93" y1="667.0" y2="667.0"/><line x1="1829" x2="1833" y1="667.0" y2="667.0"/><line x1="89" x2="93" y1="625.3" y2="625.3"/><line x1="1829" x2="1833" y1="625.3" y2="625.3"/><line x1="89" x2="93" y1="584.7" y2="584.7"/><line x1="1829" x2="1833" y1="584.7" y2="584.7"/><line x1="85" x2="93" y1="545.1" y2="545.1"/><line x1="1829" x2="1837" y1="545.1" y2="545.1"/><line x1="89" x2="93" y1="506.4" y2="506.4"/><line x1="1829" x2="1833" y1="506.4" y2="506.4"/><line x1="89" x2="93" y1="468.7" y2="468.7"/><line x1="1829" x2="1833" y1="468.7" y2="468.7"/><line x1="89" x2="93" y1="431.9" y2="431.9"/><line x1="1829" x2="1833" y1="431.9" y2="431.9"/><line x1="89" x2="93" y1="396.0" y2="396.0"/><line x1="1829" x2="1833" y1="396.0" y2="396.0"/><line x1="85" x2="93" y1="360.8" y2="360.8"/><line x1="1829" x2="1837" y1="360.8" y2="360.8"/><line x1="89" x2="93" y1="326.4" y2="326.4"/><line x1="1829" x2="1833" y1="326.4" y2="326.4"/><line x1="89" x2="93" y1="292.8" y2="292.8"/><line x1="1829" x2="1833" y1="292.8" y2="292.8"/><line x1="89" x2="93" y1="259.9" y2="259.9"/><line x1="1829" x2="1833" y1="259.9" y2="259.9"/><line x1="89" x2="93" y1="227.6" y2="227.6"/><line x1="1829" x2="1833" y1="227.6" y2="227.6"/><line x1="85" x2="93" y1="196.0" y2="196.0"/><line x1="1829" x2="1837" y1="196.0" y2="196.0"/><line x1="89" x2="93" y1="165.0" y2="165.0"/><line x1="1829" x2="1833" y1="165.0" y2="165.0"/><line x1="89" x2="93" y1="134.6" y2="134.6"/><line x1="1829" x2="1833" y1="134.6" y2="134.6"/><line x1="89" x2="93" y1="104.8" y2="104.8"/><line x1="1829" x2="1833" y1="104.8" y2="104.8"/><line x1="89" x2="93" y1="75.6" y2="75.6"/><line x1="1829" x2="1833" y1="75.6" y2="75.6"/><line x1="85" x2="93" y1="46.9" y2="46.9"/><line x1="1829" x2="1837" y1="46.9" y2="46.9"/><line x1="94.0" x2="94.0" y1="996" y2="1004"/><line x1="127.3" x2="127.3" y1="996" y2="1000"/><line x1="160.7" x2="160.7" y1="996" y2="1000"/><line x1="194.0" x2="194.0" y1="996" y2="1000"/><line x1="227.3" x2="227.3" y1="996" y2="1000"/><line x1="260.7" x2="260.7" y1="996" y2="1000"/><line x1="294.0" x2="294.0" y1="996" y2="1000"/><line x1="327.3" x2="327.3" y1="996" y2="1000"/><line x1="360.7" x2="360.7" y1="996" y2="1004"/><line x1="394.0" x2="394.0" y1="996" y2="1000"/><line x1="427.3" x2="427.3" y1="996" y2="1000"/><line x1="460.7" x2="460.7" y1="996" y2="1000"/><line x1="494.0" x2="494.0" y1="996" y2="1000"/><line x1="527.3" x2="527.3" y1="996" y2="1000"/><line x1="560.7" x2="560.7" y1="996" y2="1000"/><line x1="594.0" x2="594.0" y1="996" y2="1000"/><line x1="627.3" x2="627.3" y1="996" y2="1004"/><line x1="660.7" x2="660.7" y1="996" y2="1000"/><line x1="694.0" x2="694.0" y1="996" y2="1000"/><line x1="727.3" x2="727.3" y1="996" y2="1000"/><line x1="760.7" x2="760.7" y1="996" y2="1000"/><line x1="794.0" x2="794.0" y1="996" y2="1000"/><line x1="827.3" x2="827.3" y1="996" y2="1000"/><line x1="860.6" x2="860.6" y1="996" y2="1000"/><line x1="894.0" x2="894.0" y1="996" y2="1004"/><line x1="927.3" x2="927.3" y1="996" y2="1000"/><line x1="960.6" x2="960.6" y1="996" y2="1000"/><line x1="994.0" x2="994.0" y1="996" y2="1000"/><line x1="1027.3" x2="1027.3" y1="996" y2="1000"/><line x1="1060.6" x2="1060.6" y1="996" y2="1000"/><line x1="1094.0" x2="1094.0" y1="996" y2="1000"/><line x1="1127.3" x2="1127.3" y1="996" y2="1000"/><line x1="1160.6" x2="1160.6" y1="996" y2="1004"/><line x1="1194.0" x2="1194.0" y1="996" y2="1000"/><line x1="1227.3" x2="1227.3" y1="996" y2="1000"/><line x1="1260.6" x2="1260.6" y1="996" y2="1000"/><line x1="1294.0" x2="1294.0" y1="996" y2="1000"/><line x1="1327.3" x2="1327.3" y1="996" y2="1000"/><line x1="1360.6" x2="1360.6" y1="996" y2="1000"/><line x1="1394.0" x2="1394.0" y1="996" y2="1000"/><line x1="1427.3" x2="1427.3" y1="996" y2="1004"/><line x1="1460.6" x2="1460.6" y1="996" y2="1000"/><line x1="1494.0" x2="1494.0" y1="996" y2="1000"/><line x1="1527.3" x2="1527.3" y1="996" y2="1000"/><line x1="1560.6" x2="1560.6" y1="996" y2="1000"/><line x1="1594.0" x2="1594.0" y1="996" y2="1000"/><line x1="1627.3" x2="1627.3" y1="996" y2="1000"/><line x1="1660.6" x2="1660.6" y1="996" y2="1000"/><line x1="1694.0" x2="1694.0" y1="996" y2="1004"/><line x1="1727.3" x2="1727.3" y1="996" y2="1000"/><line x1="1760.6" x2="1760.6" y1="996" y2="1000"/><line x1="1794.0" x2="1794.0" y1="996" y2="1000"/></g>
<rect x="99.6" y="141.5" width="625.6" height="89.9" fill="#fff" stroke="#000" stroke-width="3"/>
<rect x="98.1" y="51.5" width="578.8" height="90" fill="#2e7d72"/>
<line x1="106.7" x2="161.2" y1="158" y2="158" stroke="#0000ff" stroke-width="2.3"/>
<line x1="106.5" x2="161.3" y1="184.9" y2="184.9" stroke="#ff6868" stroke-width="1.9"/>
<rect x="107.1" y="203.1" width="53.9" height="17.6" fill="#d9d9d9"/>
</svg>
<div class="t n yl" style="top:34.0px">55</div><div class="t n yr" style="top:34.0px">55</div><div class="t n yl" style="top:183.0px">50</div><div class="t n yr" style="top:183.0px">50</div><div class="t n yl" style="top:348.0px">45</div><div class="t n yr" style="top:348.0px">45</div><div class="t n yl" style="top:532.0px">40</div><div class="t n yr" style="top:532.0px">40</div><div class="t n yl" style="top:741.0px">35</div><div class="t n yr" style="top:741.0px">35</div><div class="t n yl" style="top:982.0px">30</div><div class="t n yr" style="top:982.0px">30</div>
<div class="t n" style="left:5.5px;top:8.6px;letter-spacing:0.05px">x 1,000</div>
<div class="t n" style="left:1836.5px;top:8.6px;letter-spacing:0.05px">x 1,000</div>
<div class="t n xl" style="left:33.2px;top:1011px">2014</div><div class="t n xl" style="left:299.9px;top:1011px">2016</div><div class="t n xl" style="left:566.5px;top:1011px">2018</div><div class="t n xl" style="left:833.2px;top:1011px">2020</div><div class="t n xl" style="left:1099.8px;top:1011px">2022</div><div class="t n xl" style="left:1366.5px;top:1011px">2024</div><div class="t n xl" style="left:1633.2px;top:1011px">2026</div>
<div class="t" style="left:96px;top:1048.5px">Source: LSEG Datastream and © Yardeni Research, and MSCI.</div>
<div class="ti" style="top:59.2px">MEXICO MSCI STOCK PRICE INDEX</div>
<div class="ti" style="top:102.3px">(local currency, ratio scale, daily)</div>
<div class="lt" style="top:145.5px">Mexico (Apr 04 = 48,225.52)</div>
<div class="lt" style="top:172.5px">200-Day Moving Average (Apr 04 = 48,449.82)</div>
<div class="lt" style="top:200.4px">Recession</div>
</body></html>
